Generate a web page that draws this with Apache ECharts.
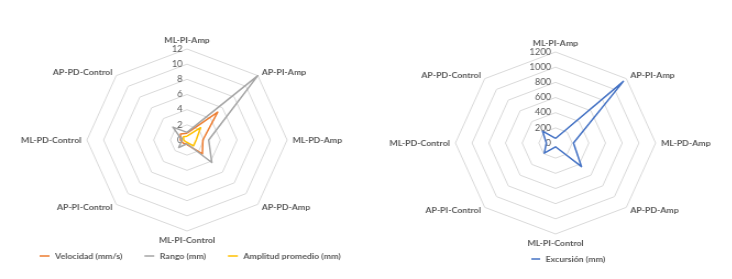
<!DOCTYPE html>
<html lang="es">
<head>
    <meta http-equiv="Content-Type" content="text/html; charset=UTF-8">
    <title>Radar</title>
    <script type="text/javascript" src="https://cdn.jsdelivr.net/npm/echarts@6/dist/echarts.min.js"></script>
    <style>
        html, body { margin: 0; padding: 0; background: #fff; overflow: hidden; }
        /* la imagen original esta estirada en horizontal (~1.1) */
        #chart { width: 666px; height: 279px; transform: scaleX(1.1); transform-origin: 0 0; }
    </style>
</head>
<body>
<div id="chart"></div>
<script type="text/javascript">
    // categorias en el orden del grafico original (horario, desde arriba)
    var categorias = ['ML-PI-Amp', 'AP-PI-Amp', 'ML-PD-Amp', 'AP-PD-Amp', 'ML-PI-Control', 'AP-PI-Control', 'ML-PD-Control', 'AP-PD-Control'];

    var velocidad = [0.9, 5.2, 1.9, 2.6, 0.6, 0.6, 0.8, 1.1];
    var rango = [1.0, 12, 2.6, 4.2, 0.5, 1.4, 0.6, 2.4];
    var amplitud = [0.5, 2.3, 1.1, 1.1, 0.3, 0.3, 0.4, 0.6];
    var excursion = [60, 1150, 215, 440, 50, 190, 110, 220];

    var ticksIzq = ['0', '2', '4', '6', '8', '10', '12'];
    var ticksDer = ['0', '200', '400', '600', '800', '1000', '1200'];

    var colores = {
        velocidad: '#ED7D31',
        rango: '#A5A5A5',
        amplitud: '#FFC000',
        excursion: '#4472C4'
    };

    // echarts coloca los indicadores en sentido antihorario
    function ccw(arr) {
        var out = [arr[0]];
        for (var i = arr.length - 1; i > 0; i--) out.push(arr[i]);
        return out;
    }

    function indicadores(max) {
        return ccw(categorias).map(function (c, i) {
            var ind = { name: c, min: 0, max: max };
            if (i === 0) ind.axisLabel = { show: true };
            return ind;
        });
    }

    var fuente = 'Lato';

    function radar(center, max, ticks) {
        return {
            center: center,
            radius: 91,
            startAngle: 90,
            shape: 'polygon',
            splitNumber: 6,
            indicator: indicadores(max),
            axisName: {
                color: '#595959',
                fontFamily: fuente,
                fontWeight: 'bold',
                fontSize: 8
            },
            nameGap: 5,
            axisLine: { show: false },
            axisTick: { show: false },
            splitArea: { show: false },
            splitLine: { lineStyle: { color: '#D9D9D9', width: 1 } },
            axisLabel: {
                show: false,
                color: '#595959',
                fontFamily: fuente,
                fontSize: 8.5,
                margin: 4,
                formatter: function (v) {
                    var idx = Math.round(v / (max / 6));
                    return ticks[idx];
                }
            }
        };
    }

    function serie(nombre, datos, color, radarIndex) {
        return {
            type: 'radar',
            radarIndex: radarIndex,
            symbol: 'none',
            lineStyle: { color: color, width: 1.5 },
            itemStyle: { color: color },
            data: [{ name: nombre, value: ccw(datos) }]
        };
    }

    var chart = echarts.init(document.getElementById('chart'));

    var leyendaTexto = {
        color: '#595959',
        fontFamily: fuente,
        fontWeight: 'bold',
        fontSize: 8
    };

    chart.setOption({
        animation: false,
        legend: [{
            data: ['Velocidad (mm/s)', 'Rango (mm)', 'Amplitud promedio (mm)'],
            left: 31,
            top: 247,
            icon: 'rect',
            itemWidth: 9,
            itemHeight: 1.5,
            itemGap: 20,
            textStyle: leyendaTexto
        }, {
            data: ['Excursión (mm)'],
            left: 478,
            top: 250,
            icon: 'rect',
            itemWidth: 8,
            itemHeight: 1.5,
            textStyle: leyendaTexto
        }],
        radar: [
            radar([170, 140], 12, ticksIzq),
            radar([505, 143], 1200, ticksDer)
        ],
        series: [
            serie('Velocidad (mm/s)', velocidad, colores.velocidad, 0),
            serie('Rango (mm)', rango, colores.rango, 0),
            serie('Amplitud promedio (mm)', amplitud, colores.amplitud, 0),
            serie('Excursión (mm)', excursion, colores.excursion, 1)
        ]
    });
</script>
</body>
</html>
